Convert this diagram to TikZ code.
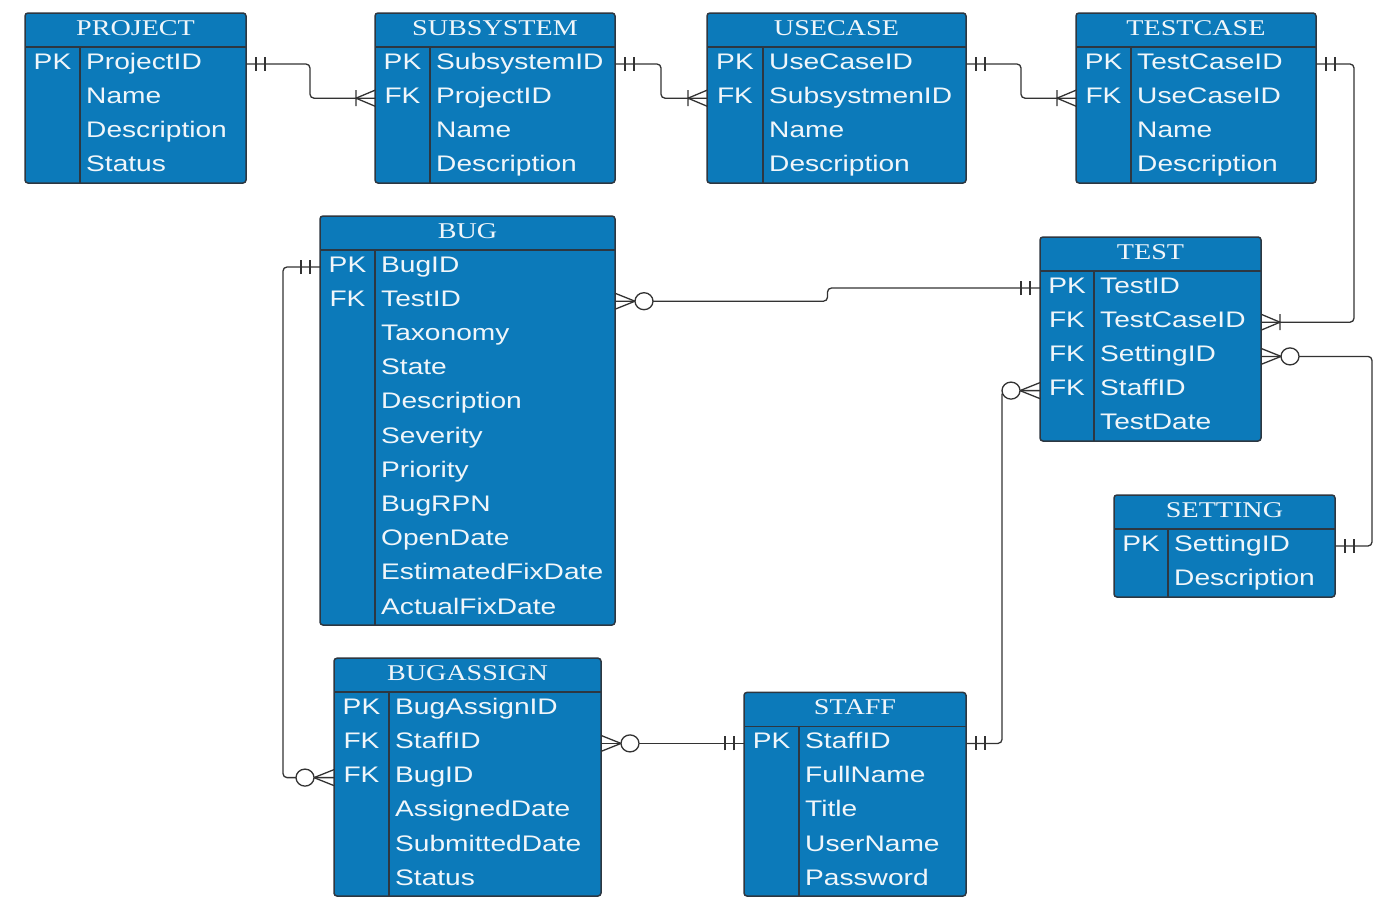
\documentclass[tikz,border=0pt]{standalone}
\usepackage{fontspec}
\setmainfont{Liberation Serif}[FakeStretch=1.25]
\newfontfamily\fldfont{Liberation Sans}[FakeStretch=1.25]
\usetikzlibrary{fit}
\definecolor{tabblue}{RGB}{12,122,186}
\definecolor{tabedge}{RGB}{45,55,65}
\definecolor{lnk}{RGB}{51,51,51}
\definecolor{txt}{RGB}{240,246,250}
\tikzset{
  tabbox/.style={draw=tabedge, fill=tabblue, line width=1.5pt, rounded corners=3pt, inner sep=0pt},
  tabline/.style={draw=tabedge, line width=1.5pt},
  titletxt/.style={text=txt, font=\fontsize{22.5}{27}\selectfont, inner sep=0pt, anchor=base},
  keytxt/.style={text=txt, font=\fldfont\fontsize{22.5}{27}\selectfont, inner sep=0pt, anchor=base},
  fldtxt/.style={text=txt, font=\fldfont\fontsize{22.5}{27}\selectfont, inner sep=0pt, anchor=base west},
  conn/.style={draw=lnk, line width=1.3pt, rounded corners=4pt},
  sym/.style={draw=lnk, line width=1.3pt},
  one/.pic={\draw[sym] (10,-7)--(10,7) (19,-7)--(19,7);},
  onemany/.pic={\draw[sym] (0,-8)--(19,0)--(0,8) (19,-8)--(19,8);},
  zeromany/.pic={\draw[sym] (0,-8)--(20,0)--(0,8); \draw[sym, fill=white] (29,0) ellipse (9 and 8.5);},
}
% #1 name, #2 left, #3 top, #4 right, #5 bottom, #6 divider, #7 title, #8 rows
\newcommand{\ertab}[8]{%
  \node[tabbox, fit={(#2,#3) (#4,#5)}] (#1) {};
  \draw[tabline] (#2,#3+34) -- (#4,#3+34);
  \draw[tabline] (#6,#3+34) -- (#6,#5);
  \node[titletxt] (#1-title) at ({(#2+#4)/2},#3+22.5) {#7};
  \foreach[count=\i] \k/\f in {#8} {
    \node[keytxt] (#1-k\i) at ({(#2+#6)/2},{#3+56+(\i-1)*34.2}) {\k};
    \node[fldtxt] (#1-f\i) at (#6+6,{#3+56+(\i-1)*34.2}) {\f};
    \coordinate (#1-w\i) at (#2,{#3+51+(\i-1)*34.2});
    \coordinate (#1-e\i) at (#4,{#3+51+(\i-1)*34.2});
  }
}
\begin{document}
\begin{tikzpicture}[x=1pt,y=-1pt]
\useasboundingbox[fill=white] (0,0) rectangle (1400,900);
\ertab{project}{25}{13}{246}{183}{80}{PROJECT}{PK/ProjectID, /Name, /Description, /Status}
\ertab{subsystem}{375}{13}{615}{183}{430}{SUBSYSTEM}{PK/SubsystemID, FK/ProjectID, /Name, /Description}
\ertab{usecase}{707}{13}{966}{183}{763}{USECASE}{PK/UseCaseID, FK/SubsystmenID, /Name, /Description}
\ertab{testcase}{1076}{13}{1316}{183}{1131}{TESTCASE}{PK/TestCaseID, FK/UseCaseID, /Name, /Description}
\ertab{bug}{320}{216}{615}{625}{375}{BUG}{PK/BugID, FK/TestID, /Taxonomy, /State, /Description, /Severity, /Priority, /BugRPN, /OpenDate, /EstimatedFixDate, /ActualFixDate}
\ertab{test}{1040}{237}{1261}{441}{1094}{TEST}{PK/TestID, FK/TestCaseID, FK/SettingID, FK/StaffID, /TestDate}
\ertab{setting}{1114}{495}{1335}{597}{1168}{SETTING}{PK/SettingID, /Description}
\ertab{bugassign}{334}{658.2}{601}{896}{389}{BUGASSIGN}{PK/BugAssignID, FK/StaffID, FK/BugID, /AssignedDate, /SubmittedDate, /Status}
\ertab{staff}{744}{692.4}{966}{896}{799}{STAFF}{PK/StaffID, /FullName, /Title, /UserName, /Password}
% connectors
\draw[conn] (project-e1) -- ++(64,0) |- (subsystem-w2);
\draw[conn] (subsystem-e1) -- ++(46,0) |- (usecase-w2);
\draw[conn] (usecase-e1) -- ++(55,0) |- (testcase-w2);
\draw[conn] (testcase-e1) -- ++(38,0) |- (test-e2);
\draw[conn] (bug-e2) -- ++(212.5,0) |- (test-w1);
\draw[conn] (test-e3) -- ++(111,0) |- (setting-e1);
\draw[conn] (staff-e1) -- ++(36,0) |- (test-w4);
\draw[conn] (bug-w1) -- ++(-37,0) |- (bugassign-w3);
\draw[conn] (bugassign-e2) -- (bugassign-e2 -| staff-w1);
% cardinality symbols
\pic at (project-e1) {one};
\pic[rotate=180] at (subsystem-w2) {onemany};
\pic at (subsystem-e1) {one};
\pic[rotate=180] at (usecase-w2) {onemany};
\pic at (usecase-e1) {one};
\pic[rotate=180] at (testcase-w2) {onemany};
\pic at (testcase-e1) {one};
\pic at (test-e2) {onemany};
\pic at (bug-e2) {zeromany};
\pic[rotate=180] at (test-w1) {one};
\pic at (test-e3) {zeromany};
\pic at (setting-e1) {one};
\pic at (staff-e1) {one};
\pic[rotate=180] at (test-w4) {zeromany};
\pic[rotate=180] at (bug-w1) {one};
\pic[rotate=180] at (bugassign-w3) {zeromany};
\pic at (bugassign-e2) {zeromany};
\pic[rotate=180] at (staff-w1) {one};
\end{tikzpicture}
\end{document}
